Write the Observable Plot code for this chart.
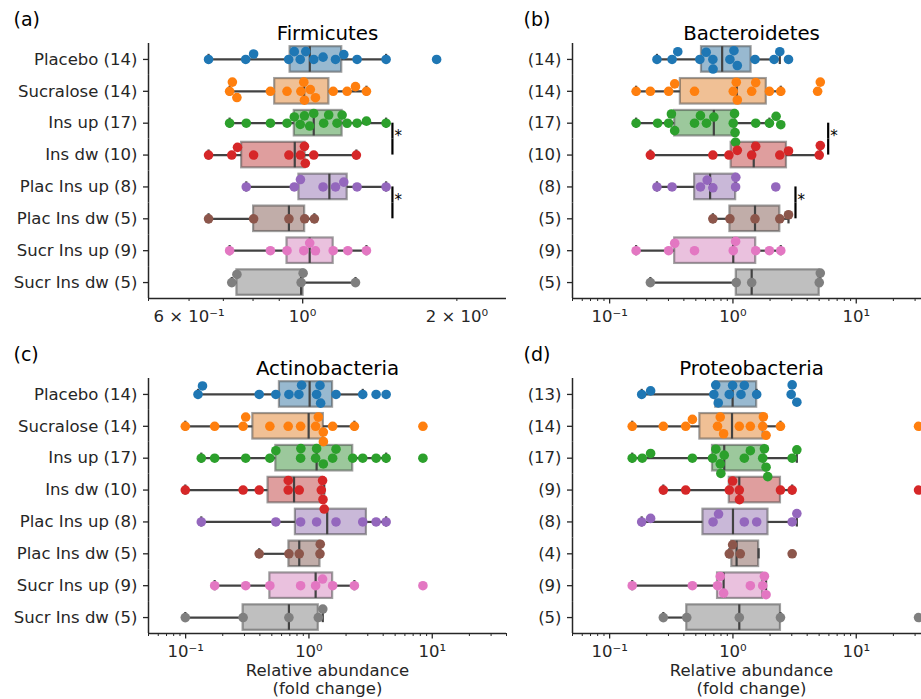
<!DOCTYPE html>
<html><head><meta charset="utf-8">
<script src="https://cdn.jsdelivr.net/npm/d3@7"></script>
<script src="https://cdn.jsdelivr.net/npm/@observablehq/plot@0.6"></script>
<style>
html,body{margin:0;padding:0;background:#fff;}
#fig{position:relative;width:921px;height:699px;overflow:hidden;background:#fff;}
#fig svg{position:absolute;}
</style></head><body><div id="fig"></div>
<script>
const groups = ["Placebo", "Sucralose", "Ins up", "Ins dw", "Plac Ins up", "Plac Ins dw", "Sucr Ins up", "Sucr Ins dw"];

const firmicutes = [
  [0.655, 0.774, 0.802, 0.939, 0.963, 0.989, 1.014, 1.051, 1.096, 1.159, 1.203, 1.277, 1.455, 1.826],
  [0.720, 0.729, 0.744, 0.865, 0.932, 0.992, 1.005, 1.008, 1.035, 1.059, 1.147, 1.221, 1.268, 1.332],
  [0.720, 0.776, 0.865, 0.932, 0.963, 0.989, 1.008, 1.032, 1.051, 1.099, 1.124, 1.167, 1.194, 1.221, 1.277, 1.332, 1.455],
  [0.655, 0.727, 0.746, 0.802, 0.940, 0.990, 1.008, 1.012, 1.051, 1.273],
  [0.776, 0.963, 0.990, 1.096, 1.159, 1.203, 1.277, 1.455],
  [0.655, 0.802, 0.940, 1.009, 1.054],
  [0.720, 0.865, 0.932, 1.005, 1.032, 1.059, 1.147, 1.225, 1.332],
  [0.727, 0.744, 0.993, 1.002, 1.268]
];
const bacteroidetes = [
  [0.242, 0.321, 0.357, 0.539, 0.607, 0.6875, 0.69, 0.945, 1.019, 1.085, 1.510, 2.157, 2.399, 2.822],
  [0.164, 0.214, 0.301, 0.337, 0.488, 1.006, 1.064, 1.085, 1.419, 1.530, 1.976, 2.443, 4.86, 5.11],
  [0.164, 0.245, 0.301, 0.317, 0.337, 0.488, 0.545, 0.610, 0.700, 1.006, 1.03, 1.04, 1.05, 1.530, 1.976, 2.239, 2.443],
  [0.214, 0.6875, 0.928, 1.085, 1.419, 1.530, 2.399, 2.822, 5.01, 5.11],
  [0.242, 0.321, 0.545, 0.618, 0.6875, 1.051, 1.055, 2.225],
  [0.6875, 0.945, 1.510, 2.399, 2.822],
  [0.164, 0.301, 0.337, 0.488, 1.006, 1.051, 1.530, 1.976, 2.443],
  [0.214, 1.064, 1.419, 5.01, 5.11]
];
const actinobacteria = [
  [0.126, 0.137, 0.395, 0.539, 0.688, 0.829, 0.872, 1.154, 1.229, 1.244, 1.658, 2.731, 3.505, 4.227],
  [0.0994, 0.172, 0.2925, 0.307, 0.482, 0.679, 0.856, 1.133, 1.191, 1.308, 1.31, 1.557, 2.337, 8.40],
  [0.134, 0.172, 0.307, 0.482, 0.539, 0.856, 0.86, 1.133, 1.154, 1.308, 1.557, 1.658, 2.265, 2.731, 3.505, 4.227, 8.40],
  [0.0994, 0.2925, 0.395, 0.679, 0.68, 0.8345, 1.26, 1.29, 1.30, 1.33],
  [0.134, 0.539, 0.856, 1.154, 1.658, 2.731, 3.505, 4.227],
  [0.395, 0.688, 0.8345, 1.229, 1.235],
  [0.172, 0.307, 0.482, 0.856, 1.133, 1.29, 1.557, 2.337, 8.40],
  [0.0994, 0.2925, 0.688, 1.191, 1.295]
];
const proteobacteria = [
  [0.182, 0.215, 0.70, 0.725, 0.76, 0.934, 0.994, 1.162, 1.237, 1.558, 2.966, 3.022, 3.298],
  [0.1525, 0.2726, 0.414, 0.469, 0.750, 0.789, 0.840, 1.126, 1.384, 1.744, 1.766, 1.856, 2.429, 32.0],
  [0.1525, 0.184, 0.215, 0.469, 0.683, 0.727, 0.789, 0.798, 0.850, 1.237, 1.384, 1.744, 1.80, 1.856, 1.915, 3.022, 3.298],
  [0.2726, 0.414, 0.934, 0.994, 1.126, 1.13, 2.429, 3.022, 32.0],
  [0.182, 0.215, 0.69, 0.7645, 1.237, 1.558, 3.022, 3.298],
  [0.934, 0.994, 1.147, 3.022],
  [0.1525, 0.469, 0.750, 0.789, 0.840, 1.384, 1.744, 1.80, 1.856],
  [0.2726, 0.422, 1.126, 2.429, 32.0]
];

const pointColors = ["#1f77b4", "#ff7f0e", "#2ca02c", "#d62728", "#9467bd", "#8c564b", "#e377c2", "#7f7f7f"];
const boxColors = ["#3274a1", "#e1812c", "#3a923a", "#c03d3e", "#9372b2", "#845b53", "#d684bd", "#7f7f7f"];

const firmDomain = [0.5, 2.5];
const firmMajorTicks = [1];
const firmMajorLabels = ["10⁰"];
const firmLabeledMinorTicks = [0.6, 2];
const firmLabeledMinorLabels = ["6 × 10⁻¹", "2 × 10⁰"];
const firmMinorTicks = [0.5, 0.7, 0.8, 0.9];

const logDomain = [0.05, 40];
const logMajorTicks = [0.1, 1, 10];
const logMajorLabels = ["10⁻¹", "10⁰", "10¹"];
const logMinorTicks = [0.05, 0.06, 0.07, 0.08, 0.09, 0.2, 0.3, 0.4, 0.5, 0.6, 0.7, 0.8, 0.9, 2, 3, 4, 5, 6, 7, 8, 9, 20, 30, 40];

const firmBracketFrom = ["Ins up", "Plac Ins up"];
const firmBracketTo = ["Ins dw", "Plac Ins dw"];
const firmBracketX = [1.497, 1.497];
const bactBracketFrom = ["Ins up", "Plac Ins up"];
const bactBracketTo = ["Ins dw", "Plac Ins dw"];
const bactBracketX = [5.92, 3.215];

const xLabel = "Relative abundance\n(fold change)";

function boxStats(vals) {
  const s = vals.slice().sort(d3.ascending);
  const q1 = d3.quantileSorted(s, 0.25), med = d3.quantileSorted(s, 0.5), q3 = d3.quantileSorted(s, 0.75);
  const iqr = q3 - q1;
  let hi = d3.max(s.filter(v => v <= q3 + 1.5 * iqr));
  if (hi == null || hi < q3) hi = q3;
  let lo = d3.min(s.filter(v => v >= q1 - 1.5 * iqr));
  if (lo == null || lo > q1) lo = q1;
  return {q1, med, q3, lo, hi};
}

const INK = "#262626";
const LINE = "#424242";
const FONT = 16.5;

function panel(cfg) {
  const {values, title, letter, fullLabels, domain, majorTicks, majorLabels, labeledMinor, labeledMinorLabels, minorTicks,
         bFrom, bTo, bX, left, top, width, height, marginLeft, marginRight, marginTop, marginBottom, letterDx, showXLabel} = cfg;
  const labelOf = new Map(groups.map((g, i) => [g, (fullLabels ? g + " " : "") + "(" + values[i].length + ")"]));
  const stats = groups.map((g, i) => ({g, box: boxColors[i], ...boxStats(values[i])}));
  const points = groups.flatMap((g, i) => values[i].slice().sort(d3.ascending).map(v => ({g, v, color: pointColors[i]})));
  const brackets = (bX || []).map((x, i) => ({from: bFrom[i], to: bTo[i], x}));
  const majorMap = new Map(majorTicks.map((t, i) => [t, majorLabels[i]]));
  const lmMap = new Map((labeledMinor || []).map((t, i) => [t, labeledMinorLabels[i]]));
  const first = [groups[0]], last = [groups[groups.length - 1]];

  const marks = [
    Plot.rect(stats, {fy: "g", x1: "q1", x2: "q3", y1: () => -0.4, y2: () => 0.4, fill: "box", fillOpacity: 0.5, stroke: LINE, strokeOpacity: 0.5, strokeWidth: 2.2}),
    Plot.ruleY(stats, {fy: "g", y: () => 0, x1: "lo", x2: "q1", stroke: LINE, strokeWidth: 2.2}),
    Plot.ruleY(stats, {fy: "g", y: () => 0, x1: "q3", x2: "hi", stroke: LINE, strokeWidth: 2.2}),
    Plot.ruleX(stats, {fy: "g", x: "lo", y1: () => -0.16, y2: () => 0.16, stroke: LINE, strokeWidth: 2.2}),
    Plot.ruleX(stats, {fy: "g", x: "hi", y1: () => -0.16, y2: () => 0.16, stroke: LINE, strokeWidth: 2.2}),
    Plot.ruleX(stats, {fy: "g", x: "med", y1: () => -0.4, y2: () => 0.4, stroke: LINE, strokeWidth: 2.2}),
    Plot.dot(points, Plot.dodgeY({fy: "g", x: "v", r: 4.8, anchor: "middle", padding: 0, fill: "color", stroke: null})),
    Plot.ruleX(groups, {fy: d => d, x: () => domain[0], stroke: INK, strokeWidth: 1.5}),
    Plot.ruleY(last, {fy: d => d, y: () => -0.5, stroke: INK, strokeWidth: 1.5}),
    Plot.axisFy({anchor: "left", tickSize: 5, tickPadding: 6, fontSize: FONT, label: null, tickFormat: g => labelOf.get(g), stroke: INK, fill: INK, strokeWidth: 1.3}),
    Plot.axisX({anchor: "bottom", ticks: majorTicks, tickSize: 5.5, tickPadding: 6, fontSize: FONT, label: null, tickFormat: d => majorMap.get(d), stroke: INK, fill: INK, strokeWidth: 1.3}),
    Plot.axisX({anchor: "bottom", ticks: minorTicks, tickSize: 3, tickPadding: 0, fontSize: FONT, label: null, tickFormat: () => "", stroke: INK, strokeWidth: 1}),
    Plot.text(first, {fy: d => d, frameAnchor: "top", text: () => title, dy: -4, lineAnchor: "bottom", fontSize: 19.8, fill: "#000"}),
    Plot.text(first, {fy: d => d, frameAnchor: "top-left", text: () => letter, dx: letterDx, dy: -17.5, textAnchor: "start", lineAnchor: "bottom", fontSize: 19, fill: "#000"})
  ];
  if (labeledMinor) {
    marks.push(Plot.axisX({anchor: "bottom", ticks: labeledMinor, tickSize: 3, tickPadding: 8.5, fontSize: FONT, label: null, tickFormat: d => lmMap.get(d), stroke: INK, fill: INK, strokeWidth: 1}));
  }
  if (brackets.length) {
    marks.push(
      Plot.ruleX(brackets, {fy: "from", x: "x", y1: () => 0, y2: () => -0.5, stroke: "#000", strokeWidth: 2.2}),
      Plot.ruleX(brackets, {fy: "to", x: "x", y1: () => 0.5, y2: () => 0, stroke: "#000", strokeWidth: 2.2}),
      Plot.text(brackets, {fy: "from", x: "x", y: () => -0.5, text: () => "*", textAnchor: "start", lineAnchor: "middle", dx: 2, dy: -2.5, fontSize: 15, fill: "#000"})
    );
  }
  if (showXLabel) {
    marks.push(Plot.text(last, {fy: d => d, frameAnchor: "bottom", text: () => xLabel, lineAnchor: "top", dy: 29, lineHeight: 1.12, fontSize: FONT, fill: INK}));
  }

  const svg = Plot.plot({
    width, height, marginLeft, marginRight, marginTop, marginBottom,
    style: {fontFamily: "'DejaVu Sans', sans-serif", fontSize: FONT + "px", color: INK, background: "transparent", overflow: "visible"},
    x: {type: "log", domain, axis: null},
    y: {domain: [-0.5, 0.5], axis: null},
    fy: {domain: groups, padding: 0, round: false, axis: null},
    color: {type: "identity"},
    marks
  });
  svg.style.left = left + "px";
  svg.style.top = top + "px";
  return svg;
}

const fig = document.getElementById("fig");
fig.appendChild(panel({values: firmicutes, title: "Firmicutes", letter: "(a)", fullLabels: true, domain: firmDomain,
  majorTicks: firmMajorTicks, majorLabels: firmMajorLabels, labeledMinor: firmLabeledMinorTicks, labeledMinorLabels: firmLabeledMinorLabels, minorTicks: firmMinorTicks,
  bFrom: firmBracketFrom, bTo: firmBracketTo, bX: firmBracketX,
  left: 0, top: 0, width: 520, height: 345, marginLeft: 148, marginRight: 14, marginTop: 43, marginBottom: 47, letterDx: -135, showXLabel: false}));
fig.appendChild(panel({values: bacteroidetes, title: "Bacteroidetes", letter: "(b)", fullLabels: false, domain: logDomain,
  majorTicks: logMajorTicks, majorLabels: logMajorLabels, minorTicks: logMinorTicks,
  bFrom: bactBracketFrom, bTo: bactBracketTo, bX: bactBracketX,
  left: 500, top: 0, width: 440, height: 345, marginLeft: 72, marginRight: 10, marginTop: 43, marginBottom: 47, letterDx: -49, showXLabel: false}));
fig.appendChild(panel({values: actinobacteria, title: "Actinobacteria", letter: "(c)", fullLabels: true, domain: logDomain,
  majorTicks: logMajorTicks, majorLabels: logMajorLabels, minorTicks: logMinorTicks,
  left: 0, top: 335, width: 520, height: 364, marginLeft: 148, marginRight: 14, marginTop: 43, marginBottom: 66, letterDx: -135, showXLabel: true}));
fig.appendChild(panel({values: proteobacteria, title: "Proteobacteria", letter: "(d)", fullLabels: false, domain: logDomain,
  majorTicks: logMajorTicks, majorLabels: logMajorLabels, minorTicks: logMinorTicks,
  left: 500, top: 335, width: 440, height: 364, marginLeft: 72, marginRight: 10, marginTop: 43, marginBottom: 66, letterDx: -49, showXLabel: true}));
</script>
</body></html>
